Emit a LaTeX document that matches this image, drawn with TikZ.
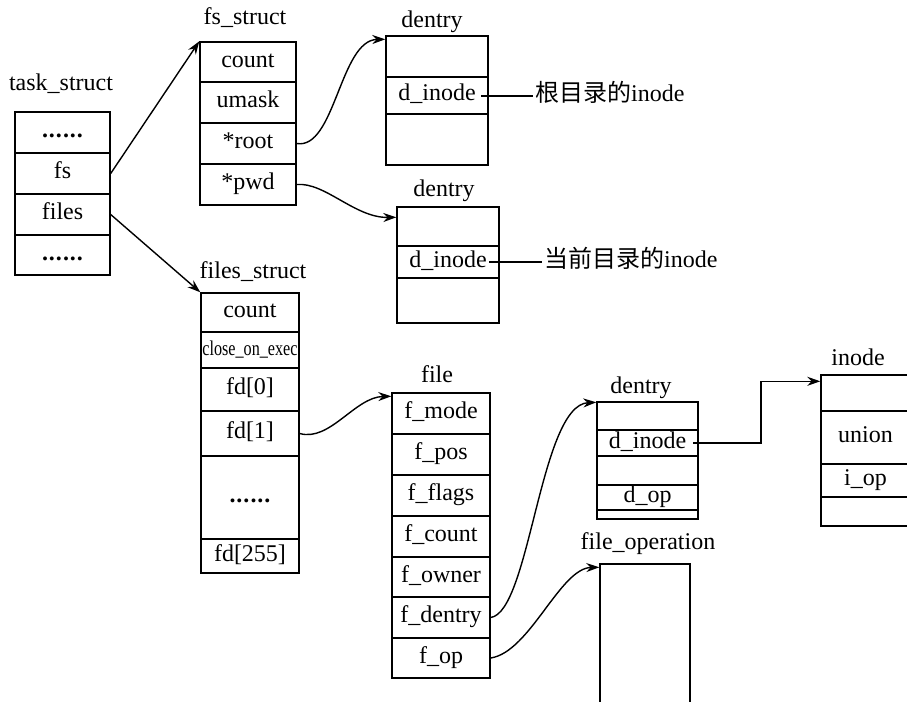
\documentclass[tikz,border=0pt]{standalone}
\usepackage{fontspec}
\setmainfont{Liberation Serif}
\newfontfamily\cjk{Noto Sans CJK SC}
\usetikzlibrary{arrows.meta,calc}
\newcommand\sixdots{\textbf{.\kern1pt.\kern1pt.\kern1pt.\kern1pt.\kern1pt.}}
\tikzset{
  cell/.style={draw, line width=1.4pt, inner sep=0pt, text height=15pt, text depth=5pt,
    font=\fontsize{24}{27}\selectfont},
  blank/.style={draw, line width=1.4pt, inner sep=0pt},
  title/.style={inner sep=0pt, text height=15pt, text depth=5pt, font=\fontsize{24}{27}\selectfont},
  arr/.style={-{Stealth[length=13pt,width=9pt]}, line width=1.4pt},
  link/.style={line width=1.4pt},
}
\begin{document}
\begin{tikzpicture}[x=1pt,y=-1pt]
\useasboundingbox (0,0) rectangle (907,701);
\clip (0,0) rectangle (907,701);

% task_struct
\node[title] (tsT) at (61,85) {task\_struct};
\node[cell, minimum width=95pt, minimum height=41pt] (t1) at (62.5,132.5) {\sixdots};
\node[cell, minimum width=95pt, minimum height=41pt] (t2) at (62.5,173.5) {fs};
\node[cell, minimum width=95pt, minimum height=41pt] (t3) at (62.5,214.5) {files};
\node[cell, minimum width=95pt, minimum height=40pt] (t4) at (62.5,255) {\sixdots};

% fs_struct
\node[title] (fsT) at (245,20) {fs\_struct};
\node[cell, minimum width=96pt, minimum height=40pt] (f1) at (248,62) {count};
\node[cell, minimum width=96pt, minimum height=41pt] (f2) at (248,102.5) {umask};
\node[cell, minimum width=96pt, minimum height=41pt] (f3) at (248,143.5) {*root};
\node[cell, minimum width=96pt, minimum height=41pt] (f4) at (248,184.5) {*pwd};

% dentry 1
\node[title] (d1T) at (432,23) {dentry};
\node[blank, minimum width=102pt, minimum height=41pt] (d1a) at (437,56.5) {};
\node[cell, minimum width=102pt, minimum height=37pt] (d1b) at (437,95.5) {d\_inode\hspace{8pt}};
\node[blank, minimum width=102pt, minimum height=51pt] (d1c) at (437,139.5) {};
\coordinate (di1) at (481,96);
\node[title, anchor=west, inner sep=2pt] (lab1) at (533,96) {{\cjk 根目录的}inode};
\draw[link] (di1) -- (lab1.west);

% dentry 2
\node[title] (d2T) at (444,191) {dentry};
\node[blank, minimum width=102pt, minimum height=39pt] (d2a) at (448,226.5) {};
\node[cell, minimum width=102pt, minimum height=32pt] (d2b) at (448,262) {d\_inode};
\node[blank, minimum width=102pt, minimum height=45pt] (d2c) at (448,300.5) {};
\coordinate (di2) at (489,262);
\node[title, anchor=west, inner sep=2pt] (lab2) at (542,262) {{\cjk 当前目录的}inode};
\draw[link] (di2) -- (lab2.west);

% files_struct
\node[title] (flT) at (253,273) {files\_struct};
\node[cell, minimum width=98pt, minimum height=39pt] (s1) at (250,312.5) {count};
\node[cell, minimum width=98pt, minimum height=36pt, font=\fontsize{21}{24}\selectfont] (s2) at (250,350) {\scalebox{0.77}[1]{close\_on\_exec}};
\node[cell, minimum width=98pt, minimum height=43pt] (s3) at (250,389.5) {fd[0]};
\node[cell, minimum width=98pt, minimum height=45pt] (s4) at (250,433.5) {fd[1]};
\node[cell, minimum width=98pt, minimum height=83pt] (s5) at (250,497.5) {\sixdots};
\node[cell, minimum width=98pt, minimum height=34pt] (s6) at (250,556) {fd[255]};

% file
\node[title] (fiT) at (437,377) {file};
\node[cell, minimum width=98pt, minimum height=41pt] (e1) at (441,413.5) {f\_mode};
\node[cell, minimum width=98pt, minimum height=41pt] (e2) at (441,454.5) {f\_pos};
\node[cell, minimum width=98pt, minimum height=41pt] (e3) at (441,495.5) {f\_flags};
\node[cell, minimum width=98pt, minimum height=41pt] (e4) at (441,536.5) {f\_count};
\node[cell, minimum width=98pt, minimum height=40pt] (e5) at (441,577) {f\_owner};
\node[cell, minimum width=98pt, minimum height=41pt] (e6) at (441,617.5) {f\_dentry};
\node[cell, minimum width=98pt, minimum height=40pt] (e7) at (441,658) {f\_op};

% dentry 3
\node[title] (d3T) at (641,388) {dentry};
\node[blank, minimum width=101pt, minimum height=28pt] (d3a) at (647.5,416) {};
\node[cell, minimum width=101pt, minimum height=26pt] (d3b) at (647.5,443) {d\_inode\hspace{4pt}};
\node[blank, minimum width=101pt, minimum height=29pt] (d3c) at (647.5,470.5) {};
\node[cell, minimum width=101pt, minimum height=25pt] (d3d) at (647.5,497.5) {d\_op};
\node[blank, minimum width=101pt, minimum height=9pt] (d3e) at (647.5,514.5) {};
\coordinate (di3) at (693,443);

% inode
\node[title] (inT) at (858,360) {inode};
\node[blank, minimum width=89pt, minimum height=36pt] (in1) at (865.5,393) {};
\node[cell, minimum width=89pt, minimum height=53pt] (in2) at (865.5,437.5) {union};
\node[cell, minimum width=89pt, minimum height=33pt] (in3) at (865.5,480.5) {i\_op\hspace{8pt}};
\node[blank, minimum width=89pt, minimum height=29pt] (in4) at (865.5,511.5) {};

% file_operation
\node[title] (foT) at (648,544) {file\_operation};
\node[blank, minimum width=90pt, minimum height=176pt] (fop) at (645,652) {};

% connectors
\draw[arr] (t2.east) -- (f1.north west);
\draw[arr] (t3.east) -- (s1.north west);
\draw[arr] (f3.east) .. controls (335,150) and (340,40) .. ($(d1a.north west)+(0,4)$);
\draw[arr] (f4.east) .. controls (325,182) and (355,218) .. ($(d2a.north west)+(0,11)$);
\draw[arr] (s4.east) .. controls (330,442) and (355,397) .. ($(e1.north west)+(0,4)$);
\draw[arr] (e6.east) .. controls (530,612) and (540,405) .. ($(d3a.north west)+(0,1)$);
\draw[arr] (e7.east) .. controls (530,652) and (560,568) .. ($(fop.north west)+(0,4)$);
\draw[arr] (di3) -- ++(68,0) |- ($(in1.north west)+(0,7)$);
\end{tikzpicture}
\end{document}
